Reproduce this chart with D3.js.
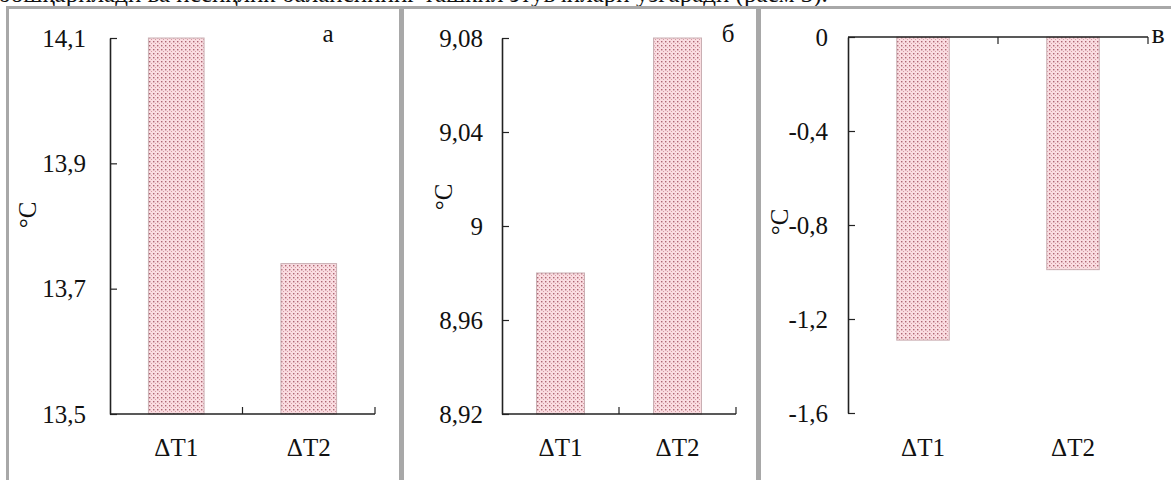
<!DOCTYPE html>
<html><head><meta charset="utf-8">
<script src="https://cdn.jsdelivr.net/npm/d3@7"></script>
<style>body{margin:0;background:#fff;}svg{display:block;font-family:"Liberation Serif","Times New Roman",serif;}</style>
</head><body>
<svg id="c" width="1171" height="480"></svg>
<script>
const categories = ["ΔT1", "ΔT2"];
const valuesA = [14.1, 13.74];
const valuesB = [8.98, 9.08];
const valuesC = [-1.29, -0.99];
const ticksA = [13.5, 13.7, 13.9, 14.1];
const ticksB = [8.92, 8.96, 9, 9.04, 9.08];
const ticksC = [-1.6, -1.2, -0.8, -0.4, 0];
const panelLabels = ["а", "б", "в"];
const unitLabel = "°C";
const headText = "бошқарилади ва иссиқлик балансининг ташкил этувчилари ўзгаради (расм 3).";

const svg = d3.select("#c");
const fmt = v => String(+v.toFixed(2)).replace(".", ",");
const FS = 25;

// pattern
const defs = svg.append("defs");
const pat = defs.append("pattern").attr("id","dots").attr("patternUnits","userSpaceOnUse")
  .attr("width",4).attr("height",4);
pat.append("rect").attr("width",4).attr("height",4).attr("fill","#fadde1");
pat.append("rect").attr("x",1).attr("y",1).attr("width",1.4).attr("height",1.4).attr("fill","#ad6573");
pat.append("rect").attr("x",3).attr("y",3).attr("width",1).attr("height",1).attr("fill","#d69aa4");

// head text (cut off at the top, as in the source)
svg.append("text").attr("x",-2).attr("y",2).attr("font-size",25).attr("fill","#111").text(headText);

// frames
const grey = "#a8a8a8";
svg.append("rect").attr("x",6).attr("y",6).attr("width",1171).attr("height",3).attr("fill",grey);
svg.append("rect").attr("x",6).attr("y",6).attr("width",3).attr("height",480).attr("fill",grey);
svg.append("rect").attr("x",399).attr("y",6).attr("width",5).attr("height",480).attr("fill",grey);
svg.append("rect").attr("x",756).attr("y",6).attr("width",5).attr("height",480).attr("fill",grey);

const panels = [
  {vals: valuesA, ticks: ticksA, x0:110, x1:375, y0:38, y1:414, pad:0.58, tp:24, neg:false,
   lab:[328,42], unit:[27,215]},
  {vals: valuesB, ticks: ticksB, x0:502, x1:736, y0:38, y1:414, pad:0.59, tp:19, neg:false,
   lab:[728,42], unit:[443,197]},
  {vals: valuesC, ticks: ticksC, x0:848, x1:1148, y0:37, y1:413, pad:0.65, tp:20, neg:true,
   lab:[1158,43], unit:[779,222]}
];

const axisCol = "#222";
panels.forEach((p, i) => {
  const g = svg.append("g");
  const x = d3.scaleBand().domain(categories).range([p.x0, p.x1])
    .paddingInner(p.pad).paddingOuter(p.pad/2);
  const y = d3.scaleLinear().domain([p.ticks[0], p.ticks[p.ticks.length-1]]).range([p.y1, p.y0]);
  const base = p.neg ? 0 : p.ticks[0];

  // bars
  g.selectAll("rect.bar").data(p.vals).join("rect").attr("class","bar")
    .attr("x",(d,j)=>x(categories[j]))
    .attr("width",x.bandwidth())
    .attr("y",d=>Math.min(y(d),y(base)))
    .attr("height",d=>Math.abs(y(d)-y(base)))
    .attr("fill","url(#dots)")
    .attr("stroke","#c9afb3").attr("stroke-width",1);

  // y axis
  const ya = d3.axisLeft(y).tickValues(p.ticks).tickFormat(fmt)
    .tickSizeInner(-7).tickSizeOuter(0).tickPadding(p.tp);
  const yg = g.append("g").attr("transform",`translate(${p.x0},0)`).call(ya);
  yg.select(".domain").attr("stroke",axisCol).attr("stroke-width",1.6);
  yg.selectAll(".tick line").attr("stroke",axisCol).attr("stroke-width",1.2);
  yg.selectAll("text").attr("font-size",FS).attr("fill","#111")
    .attr("font-family",'"Liberation Serif",serif');

  // x axis line at base
  const yb = y(base);
  g.append("line").attr("x1",p.x0).attr("x2",p.x1).attr("y1",yb).attr("y2",yb)
    .attr("stroke",axisCol).attr("stroke-width",1.6);
  // boundary ticks
  const dir = p.neg ? 1 : -1;
  const bounds = categories.map(c => x(c) - x.step()*x.paddingInner()/2 + x.step());
  g.selectAll("line.bt").data(bounds).join("line").attr("class","bt")
    .attr("x1",d=>d).attr("x2",d=>d).attr("y1",yb).attr("y2",yb+dir*7)
    .attr("stroke",axisCol).attr("stroke-width",1.2);

  // category labels
  g.selectAll("text.cat").data(categories).join("text").attr("class","cat")
    .attr("x",c=>x(c)+x.bandwidth()/2).attr("y",456)
    .attr("text-anchor","middle").attr("font-size",FS).attr("fill","#111").text(c=>c);

  // panel label
  g.append("text").attr("x",p.lab[0]).attr("y",p.lab[1]).attr("text-anchor","middle")
    .attr("font-size", i === 2 ? 28 : FS).attr("fill","#111").text(panelLabels[i]);

  // unit label
  g.append("text").attr("transform",`translate(${p.unit[0]},${p.unit[1]}) rotate(-90)`)
    .attr("text-anchor","middle").attr("dominant-baseline","central")
    .attr("font-size",FS).attr("fill","#111").text(unitLabel);
});
</script>
</body></html>
